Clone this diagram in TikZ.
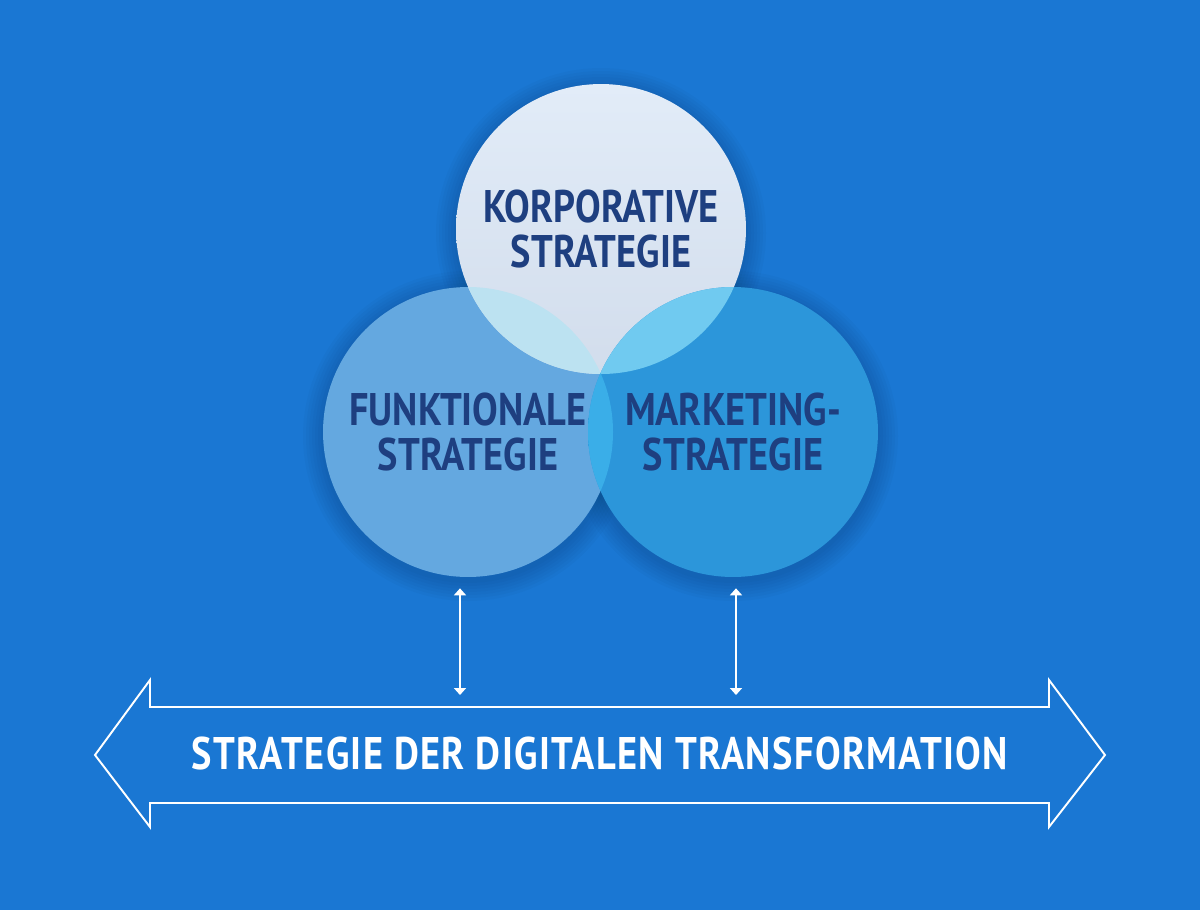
\documentclass[tikz,border=0pt]{standalone}
\usepackage{fontspec}
\setmainfont{PT Sans}[FakeStretch=0.84]
\usetikzlibrary{positioning}
\usetikzlibrary{calc}
\usetikzlibrary{arrows.meta}
\definecolor{bgblue}{RGB}{26,119,211}
\definecolor{navy}{RGB}{30,63,128}
\definecolor{topA}{RGB}{226,236,248}
\definecolor{topB}{RGB}{210,221,236}
\definecolor{funkC}{RGB}{100,168,224}
\definecolor{markC}{RGB}{44,150,218}
\definecolor{markR}{RGB}{26,164,236}
\definecolor{lensTL}{RGB}{188,226,241}
\definecolor{lensTR}{RGB}{112,202,240}
\definecolor{lensLR}{RGB}{58,174,232}
\pgfdeclareradialshading{rimglow}{\pgfpoint{0bp}{0bp}}{color(0bp)=(markC); color(36bp)=(markC); color(50bp)=(markR); color(100bp)=(markR)}
\tikzset{circ/.style={circle,minimum size=5.8cm,inner sep=0pt,align=center,text=navy,
  font=\bfseries\fontsize{26}{26}\selectfont}}
\tikzset{lnk/.style={draw=white,line width=1.1pt,shorten <=0.22cm,shorten >=0.24cm,
  {Triangle[length=1.4mm,width=2.4mm]}-{Triangle[length=1.4mm,width=2.4mm]}}}
\tikzset{halo/.style={fill=black,fill opacity=0.018}}

\begin{document}
\begin{tikzpicture}[x=0.02cm,y=-0.02cm]
\fill[bgblue] (0,0) rectangle (1200,910);

% soft shadows
\foreach \r in {147,150,...,165} {
  \fill[halo] (601,233) circle (\r);
  \fill[halo] (468,436) circle (\r);
  \fill[halo] (733,436) circle (\r);
}

\node[circ,fill=funkC] (funk) at (468,432) {FUNKTIONALE\\STRATEGIE};
\node[circ,top color=topA,bottom color=topB] (korp) at (601,229) {KORPORATIVE\\STRATEGIE};
\node[circ,shading=rimglow] (mark) at (733,432) {MARKETING-\\STRATEGIE};

% overlaps
\begin{scope}
\clip (601,229) circle (145);
\fill[lensTL] (468,432) circle (145);
\fill[lensTR] (733,432) circle (145);
\end{scope}
\begin{scope}
\clip (468,432) circle (145);
\fill[lensLR] (733,432) circle (145);
\end{scope}

% big double arrow
\draw[white,line width=1.1pt,line join=miter] (150,707) -- (1049,707) -- (1049,680) -- (1105,755)
  -- (1049,827) -- (1049,803) -- (150,803) -- (150,827) -- (95,755) -- (150,680) -- cycle;
\node[text=white,font=\bfseries\fontsize{26}{26}\selectfont\addfontfeatures{LetterSpace=3}] (dt) at (600,753)
  {STRATEGIE DER DIGITALEN TRANSFORMATION};

\coordinate (fa) at (460,707);
\coordinate (ma) at (736,707);
\draw[lnk] (funk.south -| fa) -- (fa);
\draw[lnk] (mark.south -| ma) -- (ma);
\end{tikzpicture}
\end{document}
